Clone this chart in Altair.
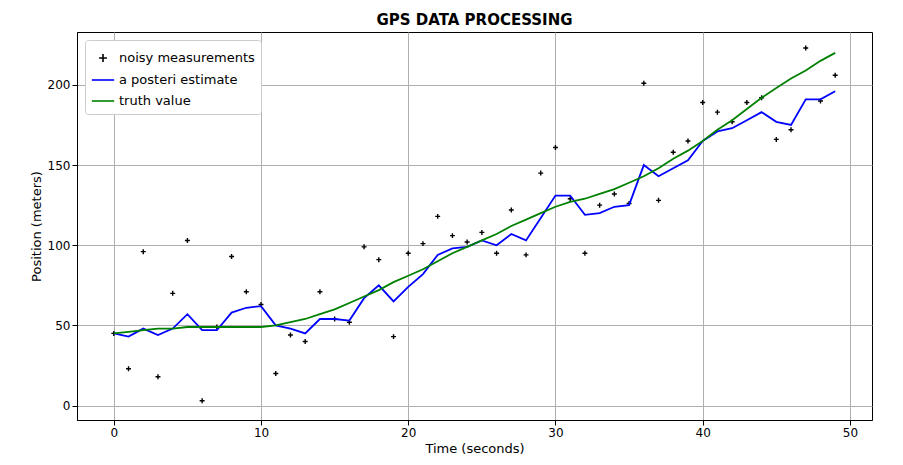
import altair as alt
import pandas as pd

t = list(range(50))
noisy = [45, 23, 96, 18, 70, 103, 3, 49, 93, 71, 63, 20, 44, 40, 71, 54, 52, 99, 91, 43,
         95, 101, 118, 106, 102, 108, 95, 122, 94, 145, 161, 129, 95, 125, 132, 126, 201, 128, 158, 165,
         189, 183, 177, 189, 192, 166, 172, 223, 190, 206]
estimate = [45, 43, 48, 44, 48, 57, 47, 47, 58, 61, 62, 50, 48, 45, 54, 54, 53, 67, 75, 65,
            74, 82, 94, 98, 99, 103, 100, 107, 103, 117, 131, 131, 119, 120, 124, 125, 150, 143, 148, 153,
            165, 171, 173, 178, 183, 177, 175, 191, 191, 196]
truth = [45, 46, 47, 48, 48, 49, 49, 49, 49, 49, 49, 50, 52, 54, 57, 60, 64, 68, 72, 77,
         81, 85, 90, 95, 99, 103, 107, 112, 116, 120, 124, 127, 129, 132, 135, 139, 143, 148, 154, 159,
         165, 172, 178, 185, 192, 198, 204, 209, 215, 220]

names = ["noisy measurements", "a posteri estimate", "truth value"]
df = pd.concat([
    pd.DataFrame({"t": t, "v": noisy, "s": names[0]}),
    pd.DataFrame({"t": t, "v": estimate, "s": names[1]}),
    pd.DataFrame({"t": t, "v": truth, "s": names[2]}),
])

color = alt.Color("s:N", scale=alt.Scale(domain=names, range=["black", "blue", "green"]),
                  legend=alt.Legend(title=None, orient="top-left", strokeColor="#ccc",
                                    fillColor="white", padding=6, labelFontSize=13, offset=8,
                                    symbolStrokeWidth=1.6, symbolSize=500, cornerRadius=3,
                                    symbolFillColor="transparent"))
shape = alt.Shape("s:N", scale=alt.Scale(domain=names,
                  range=["M-0.35,0L0.35,0M0,-0.35L0,0.35", "M-1,0L1,0", "M-1,0L1,0"]), legend=None)

x = alt.X("t:Q", title="Time (seconds)", scale=alt.Scale(domain=[-2.5, 51.5], nice=False),
          axis=alt.Axis(values=[0, 10, 20, 30, 40, 50]))
y = alt.Y("v:Q", title="Position (meters)", scale=alt.Scale(domain=[-9, 233], nice=False),
          axis=alt.Axis(values=[0, 50, 100, 150, 200]))

pts = alt.Chart(df[df.s == names[0]]).mark_point(filled=False, size=200, strokeWidth=1.4, opacity=1).encode(
    x=x, y=y, color=color, shape=shape)
lines = alt.Chart(df[df.s != names[0]]).mark_line(strokeWidth=1.8).encode(
    x=x, y=y, color=color, detail="s:N")

chart = alt.layer(pts, lines).resolve_legend(color="shared").properties(
    width=795, height=388,
    padding={"left": 22, "top": 5, "right": 5, "bottom": 5},
    title=alt.Title("GPS DATA PROCESSING", fontSize=15, fontWeight="bold"),
).configure(font="DejaVu Sans").configure_axis(
    grid=True, gridColor="#b0b0b0", domainColor="black", tickColor="black",
    labelFontSize=12, titleFontSize=13, titleFontWeight="normal", labelColor="black", titleColor="black",
).configure_view(stroke="black")

chart.save("out.html", embed_options={"renderer": "svg", "actions": False})
